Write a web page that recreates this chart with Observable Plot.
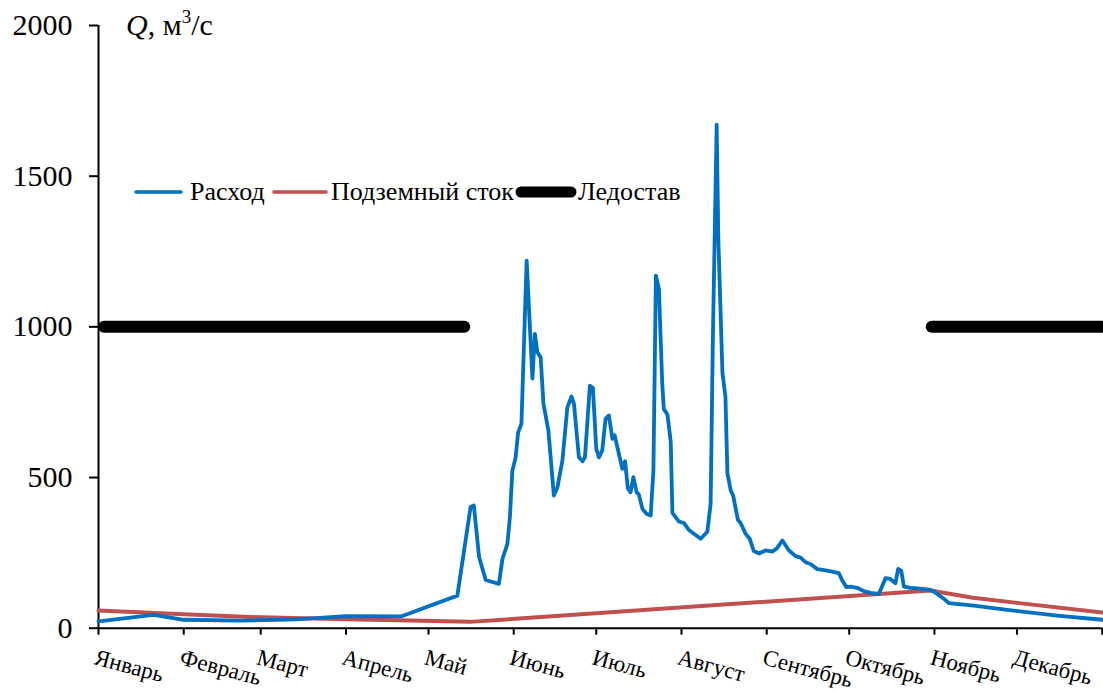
<!DOCTYPE html>
<html>
<head>
<meta charset="utf-8">
<script src="https://cdn.jsdelivr.net/npm/d3@7"></script>
<script src="https://cdn.jsdelivr.net/npm/@observablehq/plot@0.6"></script>
<style>
  html, body { margin: 0; padding: 0; background: white; }
  #chart { position: relative; width: 1103px; height: 692px; }
</style>
</head>
<body>
<div id="chart"></div>
<script>
// Month labels and tick positions (day of year)
const months = ["Январь","Февраль","Март","Апрель","Май","Июнь","Июль","Август","Сентябрь","Октябрь","Ноябрь","Декабрь"];
const monthStart = [0,31,59,90,120,151,181,212,243,273,304,334,365];
const yTicks = [0,500,1000,1500,2000];

// Расход (discharge), m3/s
const flowDay = [0,20,31,52,72,90,110,130.5,135.3,136.5,138.4,140.8,145.6,146.9,148.7,149.6,150.5,151.7,152.6,153.8,155.7,157.8,158.7,159.6,160.8,161.8,163.6,165.6,166.9,168.7,170.5,172,172.9,174.7,176,176.9,178.7,179.8,181,182,183.2,184.4,185.6,186.9,187.7,190.5,191.5,192.5,193.5,194.5,195.7,196.5,197.8,199.3,200.8,201.8,202.7,203.8,205,205.6,206.9,208.1,208.7,211.1,212.9,214.7,219,221.4,222.6,223.4,224.8,225.4,226.9,228,228.7,229.9,230.8,232.5,233.5,235.3,236.8,238.3,240.2,242.6,245,246.7,248.7,251.1,253.5,255.3,257.1,258.9,261.4,264.4,266.8,269.2,270.5,272,273.5,275.9,278.3,280.8,283.8,286.2,287.8,289.8,290.8,291.9,292.9,295.3,299,302.6,305,307.4,309.2,318.3,330.5,348.6,365];
const flowQ = [23,44,28,25,29,40,39,108,402,407,236,160,147,230,280,368,523,567,650,678,1220,828,977,916,899,745,656,440,468,556,733,769,745,567,554,567,805,797,595,567,590,695,706,628,640,529,554,463,451,501,451,444,396,380,374,523,1170,1126,812,727,709,618,383,354,349,326,297,320,412,950,1671,1293,847,767,515,457,440,360,349,314,297,256,248,258,254,265,291,258,239,234,219,213,196,192,188,183,158,136,138,134,123,117,114,166,164,149,197,191,138,134,131,127,114,98,83,75,61,42,28];

// Подземный сток (baseflow), m3/s
const baseDay = [0,31,59,90,118,135,302.6,318,334,365];
const baseQ = [59,46,36,30,25,21,125,101,84,52];

// Ледостав (ice cover) periods, drawn at level 1000
const iceStart = [2,303];
const iceEnd = [133,365];
const iceLevel = 1000;

const flow = flowDay.map((d,i) => ({day: d, q: flowQ[i]}));
const base = baseDay.map((d,i) => ({day: d, q: baseQ[i]}));
const ice = iceStart.flatMap((s,i) => [{day: s, q: iceLevel, seg: i}, {day: iceEnd[i], q: iceLevel, seg: i}]);
const monthLabels = months.map((m,i) => ({day: monthStart[i], m}));

const blue = "#0070C0", red = "#C0504D";

const plot = Plot.plot({
  width: 1103,
  height: 692,
  marginLeft: 98,
  marginRight: 1.3,
  marginTop: 25,
  marginBottom: 64.3,
  style: {fontFamily: "'Liberation Serif', 'Times New Roman', serif", color: "black", background: "white", overflow: "visible"},
  x: {domain: [0,365]},
  y: {domain: [0,2000]},
  marks: [
    Plot.axisY({ticks: yTicks, tickFormat: "d", tickSize: 9, tickPadding: 17, fontSize: 30, label: null, strokeWidth: 2}),
    Plot.axisX({ticks: monthStart, tickSize: 7, tickFormat: () => "", label: null, strokeWidth: 2}),
    Plot.ruleX([0], {stroke: "black", strokeWidth: 2}),
    Plot.ruleY([0], {stroke: "black", strokeWidth: 2}),
    Plot.line(ice, {x: "day", y: "q", z: "seg", stroke: "black", strokeWidth: 12, strokeLinecap: "round"}),
    Plot.line(base, {x: "day", y: "q", stroke: red, strokeWidth: 4}),
    Plot.line(flow, {x: "day", y: "q", stroke: blue, strokeWidth: 3.8, strokeLinejoin: "round"}),
    Plot.text(monthLabels, {x: "day", text: "m", frameAnchor: "bottom", dy: 20, dx: -1, rotate: 15, textAnchor: "start", lineAnchor: "top", fontSize: 23, fill: "black"})
  ]
});
document.getElementById("chart").appendChild(plot);

const svg = d3.select(plot);
// Axis title
const t = svg.append("text").attr("x", 126).attr("y", 35).attr("font-size", 30)
  .attr("fill", "black").attr("text-anchor", "start");
t.append("tspan").attr("font-style", "italic").text("Q");
t.append("tspan").text(", м");
t.append("tspan").attr("font-size", 19).attr("dy", -12).text("3");
t.append("tspan").attr("dy", 12).text("/с");

// Legend
const lg = svg.append("g").attr("font-size", 26).attr("fill", "black").attr("text-anchor", "start");
const items = [
  {x1: 136, x2: 181, tx: 190, color: blue, w: 3.5, label: "Расход"},
  {x1: 274, x2: 326, tx: 331, color: red, w: 3.5, label: "Подземный сток"},
  {x1: 521, x2: 571, tx: 578, color: "black", w: 11, label: "Ледостав"}
];
for (const it of items) {
  lg.append("line").attr("x1", it.x1).attr("x2", it.x2).attr("y1", 192).attr("y2", 192)
    .attr("stroke", it.color).attr("stroke-width", it.w).attr("stroke-linecap", "round");
  lg.append("text").attr("x", it.tx).attr("y", 200).text(it.label);
}
</script>
</body>
</html>
